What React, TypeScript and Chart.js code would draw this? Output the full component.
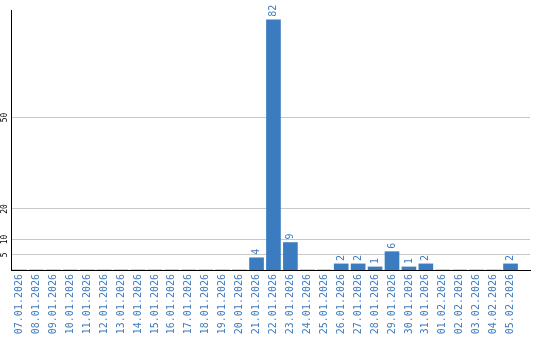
import React, { useEffect, useRef } from "react";
import { Chart, registerables } from "chart.js";

Chart.register(...registerables);

const dates = [
  "07.01.2026", "08.01.2026", "09.01.2026", "10.01.2026", "11.01.2026",
  "12.01.2026", "13.01.2026", "14.01.2026", "15.01.2026", "16.01.2026",
  "17.01.2026", "18.01.2026", "19.01.2026", "20.01.2026", "21.01.2026",
  "22.01.2026", "23.01.2026", "24.01.2026", "25.01.2026", "26.01.2026",
  "27.01.2026", "28.01.2026", "29.01.2026", "30.01.2026", "31.01.2026",
  "01.02.2026", "02.02.2026", "03.02.2026", "04.02.2026", "05.02.2026",
];
const counts = [
  0, 0, 0, 0, 0, 0, 0, 0, 0, 0, 0, 0, 0, 0, 4,
  82, 9, 0, 0, 2, 2, 1, 6, 1, 2, 0, 0, 0, 0, 2,
];
const yTicks = [5, 10, 20, 50];

const BLUE = "#3b7cc1";
const TEXT_BLUE = "#3d7bbf";
const MONO = "'DejaVu Sans Mono', 'Liberation Mono', monospace";

const labelsPlugin = {
  id: "customLabels",
  afterDraw(chart: any) {
    const ctx = chart.ctx;
    const yScale = chart.scales.y;
    ctx.save();
    ctx.fillStyle = "#000";
    ctx.font = `8px ${MONO}`;
    ctx.textAlign = "center";
    ctx.textBaseline = "middle";
    yTicks.forEach((t) => {
      const y = yScale.getPixelForValue(t);
      ctx.save();
      ctx.translate(5, y);
      ctx.rotate(-Math.PI / 2);
      ctx.fillText(String(t), 0, 0);
      ctx.restore();
    });
    ctx.restore();
    const meta = chart.getDatasetMeta(0);
    ctx.save();
    ctx.fillStyle = TEXT_BLUE;
    ctx.font = `10px ${MONO}`;
    ctx.textAlign = "left";
    ctx.textBaseline = "middle";
    meta.data.forEach((bar: any, i: number) => {
      const v = counts[i];
      if (!v) return;
      ctx.save();
      ctx.translate(bar.x, bar.y - 3);
      ctx.rotate(-Math.PI / 2);
      ctx.fillText(String(v), 0, 0);
      ctx.restore();
    });
    ctx.restore();
  },
};

export default function App() {
  const ref = useRef<HTMLCanvasElement>(null);
  useEffect(() => {
    document.body.style.margin = "0";
    const chart = new Chart(ref.current!, {
      type: "bar",
      data: {
        datasets: [
          {
            data: counts.map((c, i) => ({ x: i, y: c })),
            backgroundColor: BLUE,
            barThickness: 14,
          },
        ],
      },
      options: {
        animation: false,
        responsive: false,
        maintainAspectRatio: false,
        layout: { padding: { top: 10, right: 10, left: 0, bottom: 0 } },
        plugins: { legend: { display: false }, tooltip: { enabled: false } },
        scales: {
          x: {
            type: "linear",
            offset: false,
            min: -0.5,
            max: 30.15,
            afterBuildTicks: (axis: any) => {
              axis.ticks = dates.map((_, i) => ({ value: i }));
            },
            afterFit: (axis: any) => {
              axis.height = 70;
            },
            grid: { display: false, drawTicks: false, offset: false },
            border: { display: true, color: "#000", width: 1 },
            ticks: {
              autoSkip: false,
              minRotation: 90,
              maxRotation: 90,
              padding: 4,
              color: TEXT_BLUE,
              font: { family: MONO, size: 10 },
              callback: (v: any) => dates[v] ?? "",
            },
          },
          y: {
            min: 0,
            max: 85.2,
            afterBuildTicks: (axis: any) => {
              axis.ticks = yTicks.map((v) => ({ value: v }));
            },
            afterFit: (axis: any) => {
              axis.width = 11;
            },
            grid: { color: "#c8c8c8", drawTicks: false, lineWidth: 1 },
            border: { display: true, color: "#000", width: 1 },
            ticks: { display: false },
          },
        },
      },
      plugins: [labelsPlugin],
    });
    return () => chart.destroy();
  }, []);
  return <canvas ref={ref} width={540} height={340} style={{ display: "block" }} />;
}
